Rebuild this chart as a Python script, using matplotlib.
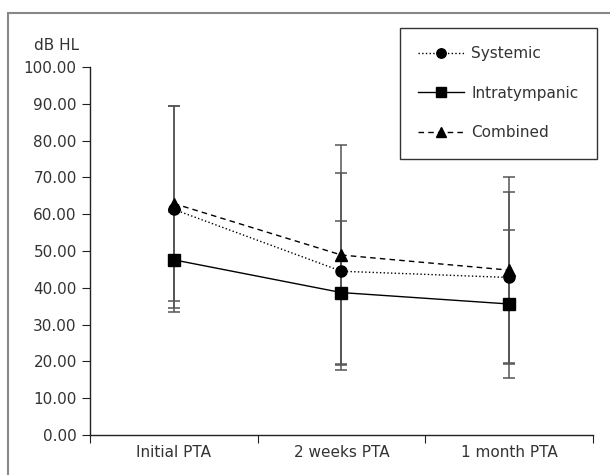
import matplotlib.pyplot as plt
from matplotlib.patches import Rectangle
import numpy as np

categories = ["Initial PTA", "2 weeks PTA", "1 month PTA"]
systemic_mean = [61.3, 44.5, 42.8]
systemic_sd = [28.0, 26.8, 23.2]
intra_mean = [47.6, 38.7, 35.6]
intra_sd = [13.0, 19.5, 20.0]
combined_mean = [62.9, 48.9, 44.8]
combined_sd = [26.6, 29.8, 25.4]
yticks = np.arange(0, 101, 10)

plt.rcParams['font.family'] = ['DejaVu Sans']
fig = plt.figure(figsize=(6.1, 4.75), dpi=100)
ax = fig.add_axes([90 / 610, 1 - 435 / 475, (593 - 90) / 610, (435 - 67) / 475])

x = np.arange(1, len(categories) + 1)
series = [
    ("Systemic", systemic_mean, systemic_sd, 'o', ':'),
    ("Intratympanic", intra_mean, intra_sd, 's', '-'),
    ("Combined", combined_mean, combined_sd, '^', (0, (4, 3))),
]
handles = []
for name, mean, sd, mk, ls in series:
    ax.errorbar(x, mean, yerr=sd, fmt='none', ecolor='#555555', elinewidth=1.1,
                capsize=4, capthick=1.1, zorder=1)
    h, = ax.plot(x, mean, color='black', linestyle=ls, linewidth=1.0, marker=mk,
                 markersize=8, markerfacecolor='black',
                 markeredgecolor='black', label=name, zorder=3)
    handles.append(h)

ax.set_xlim(0.5, 3.5)
ax.set_ylim(0, 100)
ax.set_yticks(yticks)
ax.set_yticklabels([f"{v:.2f}" for v in yticks])
ax.set_xticks([0.5, 1.5, 2.5, 3.5])
ax.set_xticklabels([])
ax.set_xticks(x, minor=True)
ax.set_xticklabels(categories, minor=True)
ax.tick_params(axis='x', which='major', length=6, direction='out', color='#222222')
ax.tick_params(axis='x', which='minor', length=0, pad=7, labelsize=11, labelcolor='#333333')
ax.tick_params(axis='y', length=6, direction='out', labelsize=11, labelcolor='#333333', color='#222222')
for s in ['top', 'right']:
    ax.spines[s].set_visible(False)
for s in ['left', 'bottom']:
    ax.spines[s].set_color('#222222')
    ax.spines[s].set_linewidth(1.0)

fig.text(34 / 610, 1 - 45 / 475, "dB HL", fontsize=11, color='#333333', va='center', ha='left')

leg = fig.legend(handles=handles, loc='upper right', bbox_to_anchor=(597 / 610, 1 - 28 / 475),
                 frameon=True, fancybox=False, edgecolor='black', fontsize=11,
                 handlelength=3.0, labelspacing=1.6, borderpad=1.2, handletextpad=0.5,
                 borderaxespad=0, markerscale=0.85)
leg.get_frame().set_linewidth(1.0)
for t in leg.get_texts():
    t.set_color('#333333')

fig.patches.append(Rectangle((8 / 610, -0.1), 1.2, 1 - 13 / 475 + 0.1, transform=fig.transFigure,
                             fill=False, edgecolor='#888888', linewidth=1.5))

fig.savefig("out.png", dpi=100)
